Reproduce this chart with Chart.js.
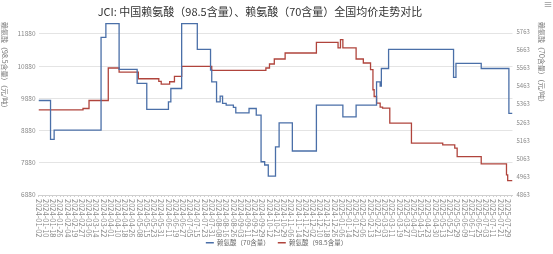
<!DOCTYPE html>
<html>
<head>
<meta charset="utf-8">
<script src="https://cdn.jsdelivr.net/npm/chart.js@4.4.1/dist/chart.umd.min.js"></script>
<style>
  html, body { margin: 0; padding: 0; background: #fff; }
</style>
</head>
<body>
<canvas id="priceChart" width="553" height="254"></canvas>
<script>
const chartTitle = "JCI: 中国赖氨酸（98.5含量）、赖氨酸（70含量）全国均价走势对比";
const leftAxisName = "赖氨酸（98.5含量）（元/吨）";
const rightAxisName = "赖氨酸（70含量）（元/吨）";

// one label every 6 trading days, starting at day 0
const tickLabels = [
  "2024-01-02", "2024-01-10", "2024-01-18", "2024-01-26", "2024-02-04", "2024-02-19",
  "2024-02-27", "2024-03-06", "2024-03-14", "2024-03-22", "2024-04-01", "2024-04-10",
  "2024-04-18", "2024-04-26", "2024-05-08", "2024-05-15", "2024-05-23", "2024-05-31",
  "2024-06-11", "2024-06-19", "2024-06-27", "2024-07-05", "2024-07-15", "2024-07-23",
  "2024-07-31", "2024-08-08", "2024-08-16", "2024-08-26", "2024-09-03", "2024-09-11",
  "2024-09-21", "2024-09-29", "2024-10-12", "2024-10-21", "2024-10-29", "2024-11-06",
  "2024-11-14", "2024-11-22", "2024-12-02", "2024-12-10", "2024-12-18", "2024-12-26",
  "2025-01-06", "2025-01-14", "2025-01-22", "2025-02-06", "2025-02-13", "2025-02-21",
  "2025-03-03", "2025-03-11", "2025-03-19", "2025-03-27", "2025-04-07", "2025-04-15",
  "2025-04-23", "2025-04-30", "2025-05-13", "2025-05-21", "2025-05-29", "2025-06-09",
  "2025-06-17", "2025-06-25", "2025-07-03", "2025-07-11", "2025-07-21", "2025-07-29"
];
const labelStep = 6;
const lastDay = 394;

const leftTicks = [6880, 7880, 8880, 9880, 10880, 11880];
const rightTicks = [4863, 4963, 5063, 5163, 5263, 5363, 5463, 5563, 5663, 5763];

// [trading day index, price] at each price change
const lysine70 = [
  [0, 5383], [10, 5169], [13, 5220], [52, 5730], [56, 5806], [67, 5554], [82, 5477],
  [90, 5334], [108, 5376], [110, 5449], [119, 5806], [132, 5664], [143, 5550], [144, 5486],
  [148, 5376], [151, 5407], [153, 5367], [156, 5358], [162, 5345], [164, 5315], [175, 5339],
  [181, 5303], [185, 5046], [188, 5028], [191, 4967], [197, 5128], [200, 5260], [211, 5105],
  [231, 5358], [253, 5293], [264, 5358], [281, 5486], [284, 5462], [285, 5559], [291, 5664],
  [345, 5510], [347, 5587], [368, 5559], [391, 5312], [394, 5312]
];
const lysine985 = [
  [0, 9524], [37, 9565], [42, 9814], [58, 10822], [67, 10697], [83, 10489], [100, 10405],
  [102, 10324], [109, 10395], [113, 10560], [119, 10871], [144, 10747], [189, 10822],
  [192, 10946], [196, 11102], [205, 11288], [231, 11618], [249, 11444], [251, 11702],
  [253, 11444], [264, 11102], [270, 10977], [276, 10769], [278, 10147], [279, 9938],
  [281, 9733], [284, 9608], [286, 9577], [292, 9111], [310, 8488], [336, 8436], [346, 8333],
  [348, 8072], [368, 7844], [389, 7502], [390, 7325], [394, 7325]
];

const FONT = "'Noto Sans CJK SC', 'Noto Sans', sans-serif";

const toPoints = rows => rows.map(r => ({ x: r[0], y: r[1] }));

// title, axis names, toolbox icon and the rotated date labels
const extrasPlugin = {
  id: "extras",
  afterDraw(chart) {
    const ctx = chart.ctx;
    const xScale = chart.scales.x;
    ctx.save();
    ctx.fillStyle = "#333";
    ctx.font = "11px " + FONT;
    ctx.textAlign = "center";
    ctx.textBaseline = "middle";
    ctx.fillText(chartTitle, 260, 12);

    ctx.fillStyle = "#666";
    ctx.font = "9px " + FONT;
    ctx.fillText("≡", 548, 5);

    ctx.font = "7px " + FONT;
    ctx.textAlign = "left";
    ctx.fillStyle = "#777";
    [[5, leftAxisName], [542, rightAxisName]].forEach(([x, txt]) => {
      ctx.save();
      ctx.translate(x, 22);
      ctx.rotate(Math.PI / 2);
      ctx.fillText(txt, 0, 0);
      ctx.restore();
    });

    ctx.font = "7.5px " + FONT;
    ctx.fillStyle = "#888";
    tickLabels.forEach((lab, i) => {
      const px = xScale.getPixelForValue(i * labelStep);
      ctx.save();
      ctx.translate(px, 199);
      ctx.rotate(Math.PI / 2);
      ctx.fillText(lab, 0, 0);
      ctx.restore();
    });
    ctx.restore();
  }
};

const legendNudge = {
  id: "legendNudge",
  afterLayout(chart) {
    chart.legend.top += 2;
    chart.legend.bottom += 2;
  }
};

const ctx = document.getElementById("priceChart").getContext("2d");
new Chart(ctx, {
  type: "line",
  data: {
    datasets: [
      {
        label: "赖氨酸（70含量）",
        data: toPoints(lysine70),
        yAxisID: "y1",
        borderColor: "#4a6fa8",
        backgroundColor: "#4a6fa8",
        borderWidth: 1.3,
        pointRadius: 0,
        stepped: true,
        fill: false
      },
      {
        label: "赖氨酸（98.5含量）",
        data: toPoints(lysine985),
        yAxisID: "y",
        borderColor: "#b0443c",
        backgroundColor: "#b0443c",
        borderWidth: 1.3,
        pointRadius: 0,
        stepped: true,
        fill: false
      }
    ]
  },
  options: {
    responsive: false,
    animation: false,
    layout: { padding: { top: 22, left: 0, right: 0, bottom: 0 } },
    plugins: {
      title: { display: false },
      tooltip: { enabled: false },
      legend: {
        position: "bottom",
        labels: {
          usePointStyle: true,
          pointStyle: "line",
          pointStyleWidth: 8,
          padding: 8,
          color: "#666",
          font: { size: 6.5, family: FONT }
        }
      }
    },
    scales: {
      x: {
        type: "linear",
        min: 0,
        max: lastDay,
        afterBuildTicks: s => {
          const t = [];
          for (let v = 0; v <= lastDay; v += 3) t.push({ value: v });
          s.ticks = t;
        },
        afterFit: s => { s.height = 254 - 195 - s.chart.legend.height; },
        ticks: { display: false },
        grid: { drawOnChartArea: false, drawTicks: true, tickLength: 2, color: "#d0d0d0" },
        border: { display: true, color: "#d0d0d0" }
      },
      y: {
        position: "left",
        min: 6880,
        max: 12250,
        afterBuildTicks: s => { s.ticks = leftTicks.map(v => ({ value: v })); },
        afterFit: s => { s.width = 38.5; },
        ticks: { color: "#888", padding: 3, font: { size: 6.5, family: FONT }, callback: v => String(v) },
        grid: { color: "#e4e4e4", drawTicks: false },
        border: { display: false }
      },
      y1: {
        position: "right",
        min: 4863,
        max: 5815,
        afterBuildTicks: s => { s.ticks = rightTicks.map(v => ({ value: v })); },
        afterFit: s => { s.width = 40.5; },
        ticks: { color: "#888", padding: 4, font: { size: 6, family: FONT }, callback: v => String(v) },
        grid: { display: false, drawTicks: false },
        border: { display: false }
      }
    }
  },
  plugins: [extrasPlugin, legendNudge]
});
</script>
</body>
</html>
